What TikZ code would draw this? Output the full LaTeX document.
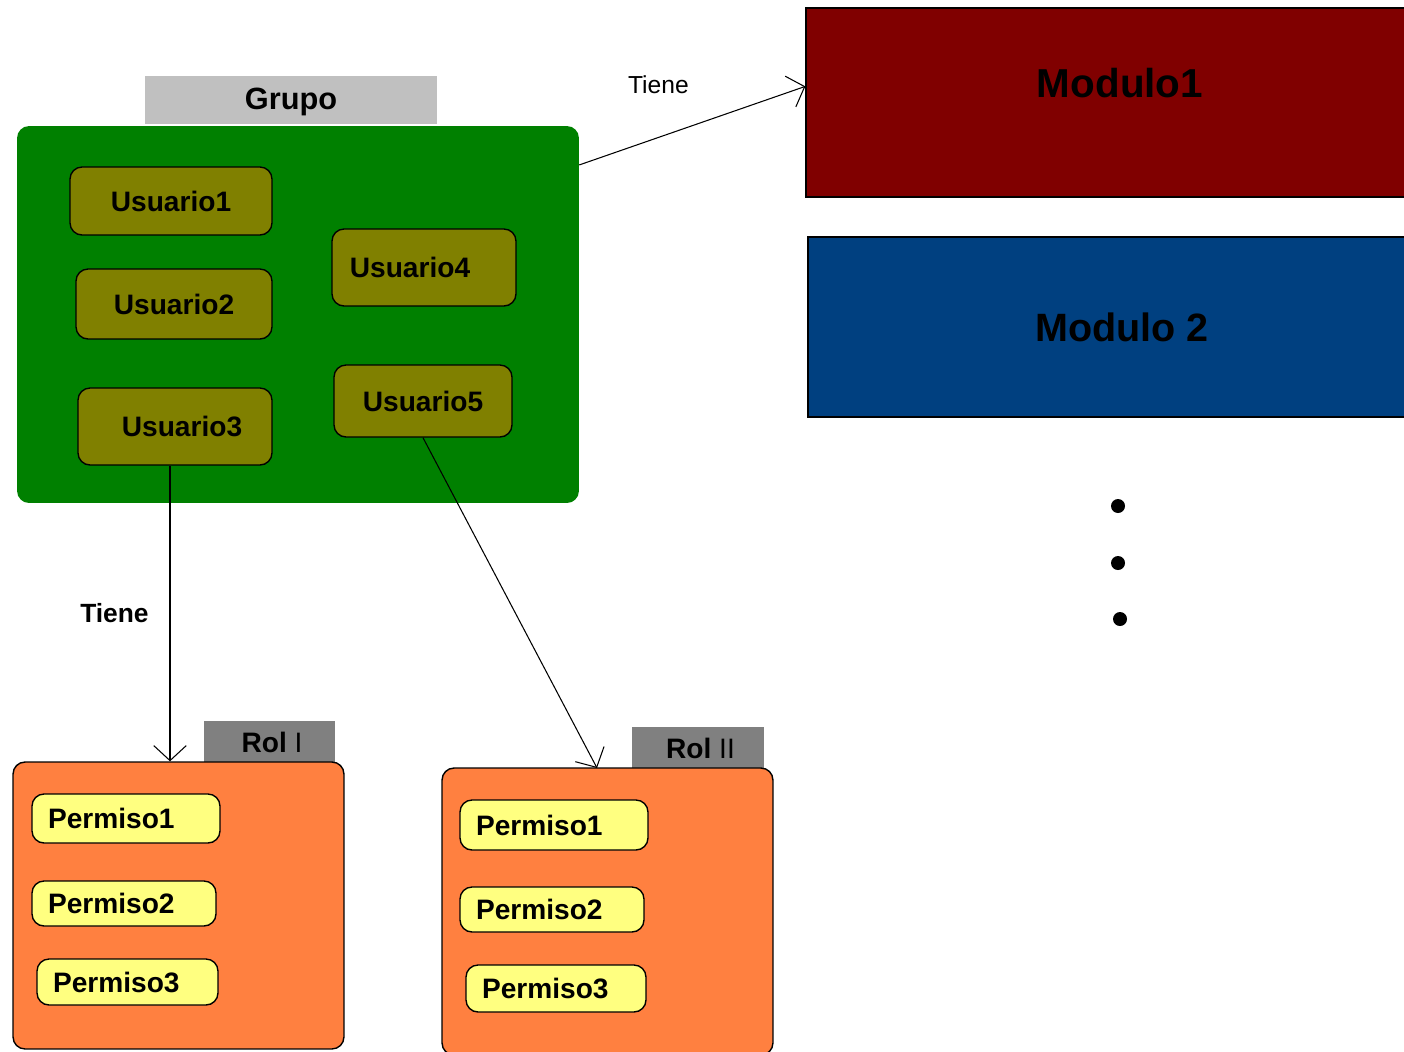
\documentclass[tikz,border=0pt]{standalone}
\usepackage{fontspec}
\setmainfont{Liberation Sans}
\usepackage{tikz}
\usetikzlibrary{arrows.meta}
\usetikzlibrary{positioning}

\definecolor{grupogreen}{HTML}{008000}
\definecolor{usrolive}{HTML}{808000}
\definecolor{modred}{HTML}{800000}
\definecolor{modblue}{HTML}{004080}
\definecolor{rolorange}{HTML}{FF8040}
\definecolor{permyellow}{HTML}{FFFF80}
\definecolor{tablight}{HTML}{C0C0C0}
\definecolor{tabdark}{HTML}{808080}

\begin{document}
\begin{tikzpicture}
          [x=0.02cm, y=-0.02cm,
           box/.style={rounded corners=0.24cm, inner sep=0pt},
           usr/.style={box, draw, line width=0.8pt, fill=usrolive, font=\bfseries\fontsize{16}{18}\selectfont},
           perm/.style={box, draw, line width=0.8pt, fill=permyellow, align=left, inner xsep=0.32cm, font=\bfseries\fontsize{16}{18}\selectfont},
           tab/.style={inner sep=0pt, font=\bfseries\fontsize{16}{18}\selectfont},
           modbox/.style={draw, line width=0.8pt, inner sep=0pt},
           tip/.style={line width=0.6pt, -{Straight Barb[length=0.3cm, width=0.65cm]}}]
          \useasboundingbox (0,0) rectangle (1404,1052);
          \clip (0,0) rectangle (1404,1052);

          \node (grupotab) [tab, fill=tablight, minimum width=5.84cm, minimum height=0.96cm, text depth=0.05cm, font=\bfseries\fontsize{17.5}{20}\selectfont] at (291,100) {Grupo};
          \node (grupo) [box, fill=grupogreen, minimum width=11.24cm, minimum height=7.54cm] at (298,314.5) {};
          \node (u1) [usr, minimum width=4.04cm, minimum height=1.36cm] at (171,201) {Usuario1};
          \node (u2) [usr, minimum width=3.92cm, minimum height=1.40cm] at (174,304) {Usuario2};
          \node (u3) [usr, minimum width=3.88cm, minimum height=1.54cm] at (175,426.5) {\hspace*{0.28cm}Usuario3};
          \node (u4) [usr, minimum width=3.68cm, minimum height=1.54cm] at (424,267.5) {Usuario4\hspace*{0.56cm}};
          \node (u5) [usr, minimum width=3.56cm, minimum height=1.44cm] at (423,401) {Usuario5};

          \node (m1) [modbox, fill=modred, minimum width=12.28cm, minimum height=3.78cm] at (1113,102.5) {};
          \node (m1txt) [font=\bfseries\fontsize{23}{26}\selectfont] at (1120,83) {Modulo1};
          \node (m2) [modbox, fill=modblue, minimum width=12.56cm, minimum height=3.60cm, font=\bfseries\fontsize{22.5}{26}\selectfont] at (1122,327) {Modulo 2};

          \fill (1118,506) circle (0.14cm);
          \fill (1118,563) circle (0.14cm);
          \fill (1120,619) circle (0.14cm);

          \node (rol1tab) [tab, fill=tabdark, minimum width=2.62cm, minimum height=0.84cm] at (269.5,742) {\hspace*{0.1cm}Rol {\mdseries I}};
          \node (rol1) [box, draw, line width=0.8pt, fill=rolorange, minimum width=6.62cm, minimum height=5.74cm] at (178.5,905.5) {};
          \node (p11) [perm, text width=3.12cm, minimum height=0.98cm] at (126,818.5) {Permiso1};
          \node (p12) [perm, text width=3.04cm, minimum height=0.90cm] at (124,903.5) {Permiso2};
          \node (p13) [perm, text width=2.98cm, minimum height=0.92cm] at (127.5,982) {Permiso3};

          \node (rol2tab) [tab, fill=tabdark, minimum width=2.64cm, minimum height=0.84cm] at (698,748) {\hspace*{0.1cm}Rol {\mdseries II}};
          \node (rol2) [box, draw, line width=0.8pt, fill=rolorange, minimum width=6.62cm, minimum height=5.74cm] at (607.5,911.5) {};
          \node (p21) [perm, text width=3.12cm, minimum height=1.00cm] at (554,825) {Permiso1};
          \node (p22) [perm, text width=3.04cm, minimum height=0.90cm] at (552,909.5) {Permiso2};
          \node (p23) [perm, text width=2.96cm, minimum height=0.94cm] at (556,988.5) {Permiso3};

          \draw[tip] (grupo.28) -- node[pos=0.35, above=0.75cm, font=\fontsize{14}{16}\selectfont] (tiene1) {Tiene} (m1.177);
          \draw[tip] (u3.south -| 170,0) -- node[midway, left=0.3cm, font=\bfseries\fontsize{15}{17}\selectfont] (tiene2) {Tiene} (rol1.north -| 170,0);
          \draw[tip] (u5.south) -- (597,768);
        \end{tikzpicture}
\end{document}
